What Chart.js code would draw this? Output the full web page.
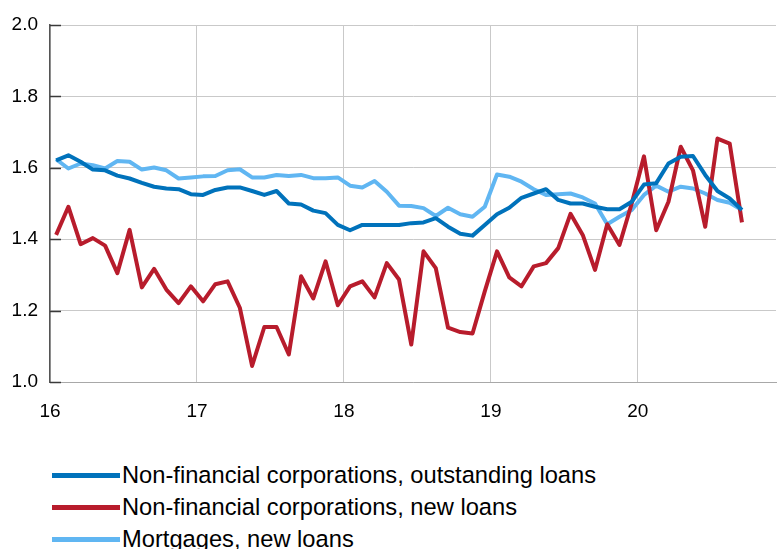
<!DOCTYPE html>
<html lang="en">
<head>
    <meta charset="UTF-8">
    <title>Lending rates</title>
    <style>
    body {
        margin: 0;
        padding: 0;
        background-color: #ffffff;
        width: 777px;
        height: 549px;
        overflow: hidden;
        font-family: "Liberation Sans", Arial, sans-serif;
        position: relative;
    }
    .chart-box {
        position: absolute;
        left: 0;
        top: 0;
        width: 777px;
        height: 430px;
    }
    #legend {
        position: absolute;
        left: 52px;
        top: 459px;
    }
    .legend-item {
        display: flex;
        align-items: center;
        height: 32px;
        font-size: 23.7px;
        color: #000;
        white-space: nowrap;
    }
    .legend-line {
        width: 68px;
        height: 5px;
        margin-right: 2px;
    }
    </style>
    <script src="https://cdn.jsdelivr.net/npm/chart.js"></script>
</head>
<body>
    <div class="chart-box">
        <canvas id="rateChart" width="777" height="430"></canvas>
    </div>
    <div id="legend"></div>

    <script>
    // monthly observations, Jan 2016 - Sep 2020 (x axis in years, "16" = 2016)
    const startYear = 16;
    const yearTicks = [16, 17, 18, 19, 20];
    const rateTicks = [1.0, 1.2, 1.4, 1.6, 1.8, 2.0];

    const seriesNames = [
        'Non-financial corporations, outstanding loans',
        'Non-financial corporations, new loans',
        'Mortgages, new loans'
    ];

    const nfcOutstanding = [
        1.621, 1.635, 1.617, 1.595, 1.593, 1.578, 1.570, 1.558, 1.547, 1.542,
        1.540, 1.526, 1.524, 1.538, 1.545, 1.545, 1.535, 1.524, 1.535, 1.500,
        1.497, 1.480, 1.473, 1.440, 1.425, 1.440, 1.440, 1.440, 1.440, 1.445,
        1.447, 1.459, 1.435, 1.415, 1.410, 1.440, 1.470, 1.488, 1.516, 1.528,
        1.540, 1.510, 1.500, 1.500, 1.491, 1.484, 1.484, 1.505, 1.553, 1.557,
        1.612, 1.631, 1.633, 1.580, 1.535, 1.514, 1.482
    ];
    const nfcNew = [
        1.412, 1.491, 1.386, 1.403, 1.382, 1.305, 1.426, 1.265, 1.317, 1.259,
        1.221, 1.268, 1.226, 1.274, 1.282, 1.208, 1.045, 1.154, 1.154, 1.077,
        1.296, 1.234, 1.338, 1.215, 1.268, 1.282, 1.237, 1.333, 1.287, 1.105,
        1.366, 1.319, 1.152, 1.140, 1.136, 1.254, 1.366, 1.293, 1.268, 1.324,
        1.333, 1.375, 1.471, 1.412, 1.314, 1.442, 1.384, 1.500, 1.632, 1.425,
        1.505, 1.659, 1.593, 1.435, 1.682, 1.668, 1.447
    ];
    const mortgagesNew = [
        1.624, 1.598, 1.612, 1.607, 1.598, 1.619, 1.617, 1.595, 1.601, 1.593,
        1.570, 1.573, 1.576, 1.577, 1.593, 1.596, 1.573, 1.573, 1.580, 1.577,
        1.580, 1.571, 1.571, 1.573, 1.550, 1.545, 1.563, 1.533, 1.494, 1.493,
        1.487, 1.465, 1.488, 1.470, 1.463, 1.491, 1.581, 1.575, 1.561, 1.540,
        1.524, 1.526, 1.528, 1.517, 1.500, 1.442, 1.463, 1.482, 1.524, 1.550,
        1.533, 1.547, 1.542, 1.528, 1.510, 1.502, 1.482
    ];

    const colors = ['#0072bb', '#b81c2c', '#60b6f2'];

    // month i sits in the middle of its month on the year axis
    function toPoints(values) {
        return values.map((v, i) => ({ x: startYear + (i + 0.5) / 12, y: v }));
    }

    // short dark tick marks drawn inside the plot on the y axis
    const innerTicks = {
        id: 'innerTicks',
        beforeDatasetsDraw(chart) {
            const c = chart.ctx;
            const y = chart.scales.y;
            c.save();
            c.strokeStyle = '#3a3a3a';
            c.lineWidth = 1.5;
            rateTicks.forEach(t => {
                const py = Math.round(y.getPixelForValue(t)) + 0.5;
                c.beginPath();
                c.moveTo(chart.chartArea.left, py);
                c.lineTo(chart.chartArea.left + 11, py);
                c.stroke();
            });
            c.restore();
        }
    };

    const ctx = document.getElementById('rateChart').getContext('2d');
    const chart = new Chart(ctx, {
        type: 'line',
        data: {
            datasets: [
                { label: seriesNames[0], data: toPoints(nfcOutstanding), borderColor: colors[0], backgroundColor: colors[0] },
                { label: seriesNames[1], data: toPoints(nfcNew), borderColor: colors[1], backgroundColor: colors[1] },
                { label: seriesNames[2], data: toPoints(mortgagesNew), borderColor: colors[2], backgroundColor: colors[2] }
            ]
        },
        options: {
            responsive: false,
            animation: false,
            layout: { padding: { top: 25, right: 1, left: 0, bottom: 0 } },
            elements: {
                point: { radius: 0 },
                line: { borderWidth: 4, tension: 0, borderJoinStyle: 'round' }
            },
            plugins: {
                legend: { display: false },
                tooltip: { enabled: false }
            },
            scales: {
                x: {
                    type: 'linear',
                    min: 16,
                    max: 20.94,
                    afterBuildTicks: scale => { scale.ticks = yearTicks.map(v => ({ value: v })); },
                    ticks: {
                        includeBounds: false,
                        padding: 18,
                        color: '#000',
                        font: { family: '"Liberation Sans", Arial, sans-serif', size: 19 },
                        callback: v => String(v)
                    },
                    grid: { color: '#c9c9c9', lineWidth: 1, drawTicks: false },
                    border: { color: '#a8a8a8', width: 1 },
                    afterFit: scale => { scale.height = 48; }
                },
                y: {
                    min: 1.0,
                    max: 2.0,
                    afterBuildTicks: scale => { scale.ticks = rateTicks.map(v => ({ value: v })); },
                    ticks: {
                        padding: 12,
                        color: '#000',
                        font: { family: '"Liberation Sans", Arial, sans-serif', size: 19 },
                        callback: v => Number(v).toFixed(1)
                    },
                    grid: { color: '#c9c9c9', lineWidth: 1, drawTicks: false },
                    border: { color: '#555555', width: 1.5 },
                    afterFit: scale => { scale.width = 50; }
                }
            }
        },
        plugins: [innerTicks]
    });

    // legend built from the chart's datasets, one per row
    const legend = document.getElementById('legend');
    let html = '';
    chart.data.datasets.forEach(ds => {
        html += `<div class="legend-item"><span class="legend-line" style="background:${ds.borderColor}"></span>${ds.label}</div>`;
    });
    legend.innerHTML = html;
    </script>
</body>
</html>
